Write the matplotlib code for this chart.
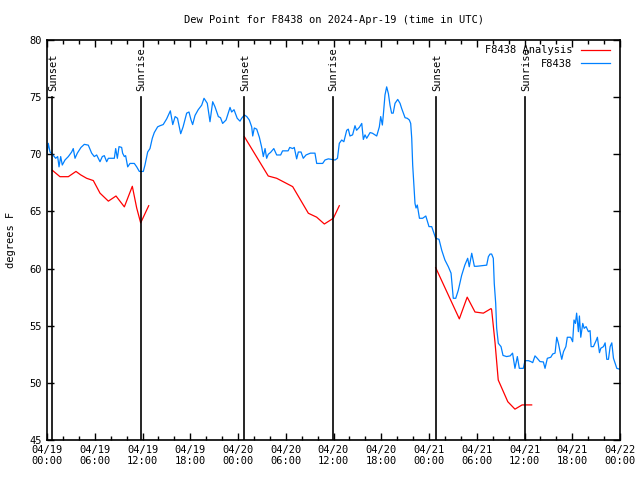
import matplotlib
matplotlib.use("Agg")
import matplotlib.pyplot as plt
import numpy as np

# hours since 2024-04-19 00:00 UTC
analysis_h = [
    [0.67, 1.63, 2.68, 3.64, 4.23, 4.98, 5.82, 6.66, 7.71, 8.67, 9.72, 10.72, 11.27, 11.77, 12.78],
    [24.8, 27.8, 28.86, 30.87, 32.84, 33.88, 34.85, 35.98, 36.73],
    [48.84, 51.81, 52.8, 53.78, 54.83, 55.8, 55.87, 56.3, 56.7, 57.9, 58.8, 59.7, 60.9],
]
analysis_v = [
    [68.6, 68.04, 68.04, 68.5, 68.2, 67.9, 67.7, 66.6, 65.9, 66.35, 65.4, 67.2, 65.3, 64.0, 65.5],
    [71.54, 68.1, 67.9, 67.17, 64.84, 64.5, 63.9, 64.4, 65.5],
    [60.08, 55.6, 57.5, 56.2, 56.1, 56.5, 56.4, 53.5, 50.25, 48.35, 47.7, 48.07, 48.07],
]

obs_h = [0.0, 0.16, 0.38, 0.67, 0.92, 1.09, 1.34, 1.51, 1.72, 1.92, 2.26, 2.68, 3.1, 3.3, 3.52, 3.81,
         4.27, 4.69, 5.19, 5.61, 5.94, 6.24, 6.66, 6.95, 7.2, 7.5, 7.71, 7.92, 8.46, 8.63, 8.84,
         9.05, 9.38, 9.5, 9.72, 9.88, 10.14, 10.43, 10.97, 11.27, 11.6, 12.1, 12.31, 12.65, 12.94,
         13.23, 13.48, 13.9, 14.2, 14.6, 15.04, 15.5, 15.8, 16.1, 16.4, 16.8, 17.1, 17.55, 17.84,
         18.1, 18.3, 18.6, 19.0, 19.44, 19.73, 20.14, 20.48, 20.82, 21.1, 21.53, 21.8, 22.07,
         22.5, 23.0, 23.2, 23.5, 23.9, 24.25, 24.46, 24.8, 25.1, 25.42, 25.72, 25.85, 26.05,
         26.35, 26.68, 26.98, 27.18, 27.4, 27.6, 27.8, 28.1, 28.5, 28.86, 29.36, 29.6, 30.3,
         30.5, 30.87, 31.07, 31.37, 31.58, 31.92, 32.2, 32.55, 33.1, 33.67, 33.89, 34.64, 34.93,
         35.35, 36.2, 36.5, 36.73, 37.03, 37.3, 37.66, 37.86, 38.07, 38.4, 38.7, 38.9, 39.25,
         39.55, 39.75, 39.96, 40.17, 40.6, 40.9, 41.43, 41.76, 41.93, 42.14, 42.26, 42.47,
         42.68, 42.9, 43.1, 43.3, 43.5, 43.73, 44.07, 44.36, 44.57, 44.78, 44.99, 45.27, 45.53,
         45.7, 45.83, 45.95, 46.12, 46.24, 46.37, 46.53, 46.8, 47.2, 47.6, 48.0, 48.34, 48.84,
         49.26, 49.6, 50.0, 50.43, 50.77, 51.05, 51.36, 51.68, 52.1, 52.5, 52.86, 53.06, 53.37,
         53.7, 54.0, 55.25, 55.46, 55.67, 55.87, 56.08, 56.2, 56.38, 56.5, 56.71, 57.05, 57.3,
         57.75, 58.2, 58.5, 58.8, 59.1, 59.35, 59.85, 60.06, 60.5, 60.8, 61.03, 61.32, 61.6,
         61.95, 62.37, 62.58, 62.87, 63.3, 63.55, 63.84, 64.05, 64.26, 64.47, 64.68, 64.9, 65.2,
         65.38, 65.8, 66.05, 66.22, 66.4, 66.55, 66.77, 66.9, 67.07, 67.32, 67.5, 67.74, 68.03,
         68.24, 68.37, 68.66, 69.0, 69.16, 69.42, 69.59, 69.92, 70.13, 70.34, 70.55, 70.76,
         70.97, 71.18, 71.4, 71.6, 71.93]
obs_v = [70.0, 70.96, 70.2, 70.0, 69.8, 69.65, 69.8, 68.9, 69.8, 69.06, 69.5, 69.8, 70.2, 70.5, 69.65,
         70.1, 70.6, 70.87, 70.8, 70.1, 69.8, 69.94, 69.35, 69.8, 69.88, 69.35, 69.65, 69.65, 69.65,
         70.5, 69.65, 70.67, 70.6, 70.1, 69.8, 69.88, 68.9, 69.2, 69.2, 68.9, 68.5, 68.5, 69.06,
         70.2, 70.5, 71.4, 71.9, 72.4, 72.5, 72.6, 73.1, 73.8, 72.6, 73.3, 73.15, 71.8, 72.4, 73.6,
         73.7, 73.0, 72.6, 73.4, 73.9, 74.3, 74.9, 74.46, 72.85, 74.6, 74.17, 73.3, 73.2, 72.7,
         73.0, 74.1, 73.7, 73.9, 73.15, 72.9, 73.15, 73.44, 73.3, 73.0, 72.4, 71.6, 72.3, 72.2,
         71.5, 70.6, 69.8, 70.5, 69.65, 70.0, 70.17, 70.5, 69.94, 69.94, 70.3, 70.3, 70.6, 70.5,
         70.6, 69.6, 70.2, 70.2, 69.65, 69.94, 70.1, 70.1, 69.2, 69.2, 69.5, 69.6, 69.5, 69.65,
         70.96, 71.25, 71.1, 72.1, 72.2, 71.6, 71.7, 72.5, 72.1, 72.36, 72.7, 71.3, 71.7, 71.4,
         71.9, 71.84, 71.6, 72.4, 73.3, 72.56, 73.44, 75.19, 75.9, 75.3, 74.3, 73.6, 73.6, 74.46,
         74.8, 74.46, 74.0, 73.6, 73.2, 73.15, 73.0, 72.7, 71.4, 69.06, 67.17, 65.7, 65.3, 65.56,
         64.4, 64.4, 64.6, 63.67, 63.67, 62.65, 62.56, 61.6, 60.75, 60.16, 59.6, 57.4, 57.4, 58.1,
         59.4, 60.3, 60.9, 60.16, 61.34, 60.2, 60.2, 60.3, 61.04, 61.27, 61.27, 60.9, 58.7, 56.96,
         54.8, 53.46, 53.17, 52.4, 52.3, 52.36, 52.6, 51.27, 52.3, 51.27, 51.27, 51.94, 51.94,
         51.86, 51.77, 52.36, 52.15, 51.86, 51.83, 51.27, 52.15, 52.24, 52.53, 52.6, 53.99, 53.46,
         52.73, 52.06, 52.73, 53.17, 53.99, 53.99, 53.6, 55.5, 55.2, 56.1, 54.48, 55.85, 53.99,
         55.2, 54.77, 54.92, 54.48, 54.57, 53.17, 53.17, 53.7, 53.99, 52.64, 53.03, 53.17, 53.5,
         52.06, 52.06, 53.17, 53.5, 52.15, 51.7, 51.27, 51.2]

sun_h = [0.63, 11.8, 24.75, 35.9, 48.9, 60.07]
sun_lbl = ["Sunset", "Sunrise", "Sunset", "Sunrise", "Sunset", "Sunrise"]

xtick_h = list(range(0, 73, 6))
xtick_lbl = ["04/19\n00:00", "04/19\n06:00", "04/19\n12:00", "04/19\n18:00",
             "04/20\n00:00", "04/20\n06:00", "04/20\n12:00", "04/20\n18:00",
             "04/21\n00:00", "04/21\n06:00", "04/21\n12:00", "04/21\n18:00",
             "04/22\n00:00"]

plt.rcParams["font.family"] = "DejaVu Sans Mono"
fs = 7.5

fig = plt.figure(figsize=(6.4, 4.8), dpi=100)
ax = fig.add_axes([47 / 640, 40 / 480, 573 / 640, 400 / 480])

for i in range(len(analysis_h)):
    ax.plot(analysis_h[i], analysis_v[i], color="#ff0000", lw=0.9,
            label="F8438 Analysis" if i == 0 else None)
ax.plot(obs_h, obs_v, color="#0080ff", lw=0.9, label="F8438")

for h, t in zip(sun_h, sun_lbl):
    ax.plot([h, h], [45, 75], color="black", lw=1.2)
    ax.text(h + 0.1, 75.5, t, rotation=90, ha="center", va="bottom", fontsize=fs)

ax.set_xlim(0, 72)
ax.set_ylim(45, 80)
ax.set_xticks(xtick_h)
ax.set_xticklabels(xtick_lbl, fontsize=fs)
ax.set_xticks(np.arange(0, 73, 2), minor=True)
ax.set_yticks(range(45, 81, 5))
ax.tick_params(axis="y", labelsize=fs)
ax.tick_params(which="both", direction="in", top=True, right=True, width=1)
ax.tick_params(which="major", length=5)
ax.tick_params(which="minor", length=3)
for s in ax.spines.values():
    s.set_linewidth(1.2)

ax.set_ylabel("degrees F", fontsize=fs)
ax.yaxis.set_label_coords(-31 / 573, 0.5)
ax.set_title("Dew Point for F8438 on 2024-Apr-19 (time in UTC)", fontsize=fs, pad=12)

leg = ax.legend(loc="upper right", fontsize=fs, frameon=False, markerfirst=False,
                handlelength=2.8, handletextpad=0.8, borderaxespad=0.3,
                labelspacing=0.35, bbox_to_anchor=(0.995, 1.005))
for t in leg.get_texts():
    t.set_ha("right")

fig.savefig("out.png", dpi=100)
